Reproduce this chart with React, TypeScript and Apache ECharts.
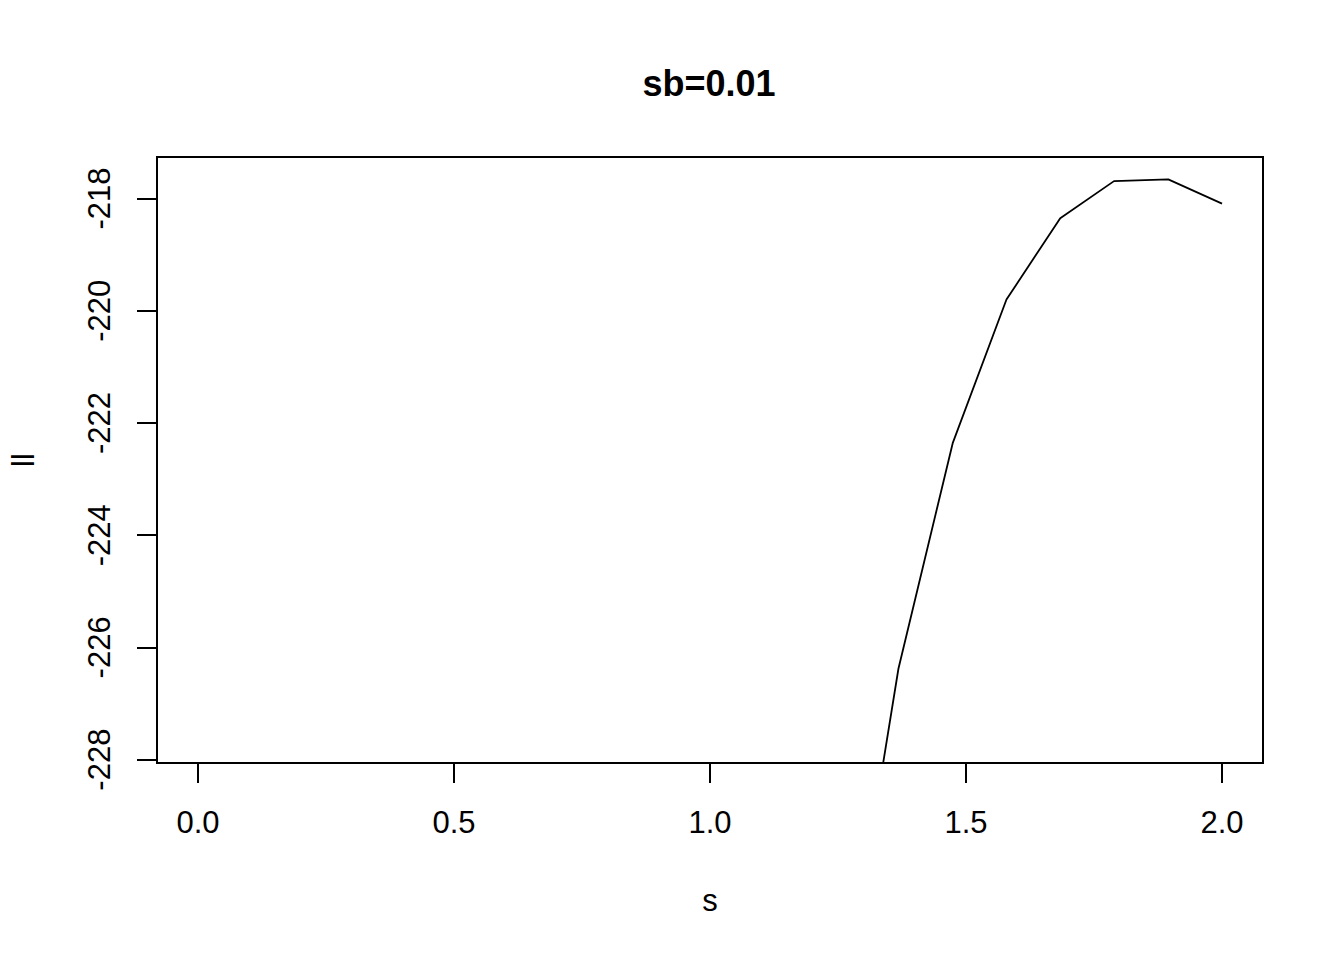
import { useEffect, useRef } from "react";
import * as echarts from "echarts";

// s grid (seq(0, 2, length = 20)); the earlier points lie far below the plotted range
const sValues = [1.263, 1.368, 1.474, 1.579, 1.684, 1.789, 1.895, 2.0];
const llValues = [-232.3, -226.38, -222.36, -219.8, -218.35, -217.69, -217.66, -218.09];

const xTicks = [0, 0.5, 1, 1.5, 2];
const yTicks = [-228, -226, -224, -222, -220, -218];

const FONT = "'Liberation Sans', Arial, Helvetica, sans-serif";

export default function App() {
  const ref = useRef<HTMLDivElement | null>(null);

  useEffect(() => {
    if (!ref.current) return;
    const chart = echarts.init(ref.current, null, { renderer: "svg" });
    chart.setOption({
      animation: false,
      backgroundColor: "#fff",
      title: {
        text: "sb=0.01",
        left: 704,
        top: 60,
        textAlign: "center",
        textStyle: { fontFamily: FONT, fontSize: 36, fontWeight: "bold", color: "#000" },
      },
      grid: {
        left: 157,
        right: 81,
        top: 157,
        bottom: 197,
        show: true,
        borderColor: "#000",
        borderWidth: 2,
        outerBoundsMode: "none",
      },
      xAxis: {
        type: "value",
        min: -0.08,
        max: 2.08,
        name: "s",
        nameLocation: "middle",
        nameGap: 122,
        nameTextStyle: { fontFamily: FONT, fontSize: 31, color: "#000" },
        axisLine: { show: false, onZero: false },
        splitLine: { show: false },
        axisTick: { show: true, length: 20, lineStyle: { color: "#000", width: 2 }, customValues: xTicks },
        axisLabel: {
          fontFamily: FONT,
          fontSize: 31,
          color: "#000",
          margin: 44,
          customValues: xTicks,
          formatter: (v: number) => v.toFixed(1),
        },
      },
      yAxis: {
        type: "value",
        min: -228.06,
        max: -217.26,
        name: "ll",
        nameLocation: "middle",
        nameGap: 118,
        nameTextStyle: { fontFamily: FONT, fontSize: 31, color: "#000" },
        axisLine: { show: false, onZero: false },
        splitLine: { show: false },
        axisTick: { show: true, length: 20, lineStyle: { color: "#000", width: 2 }, customValues: yTicks },
        axisLabel: {
          fontFamily: FONT,
          fontSize: 31,
          color: "#000",
          margin: 42,
          rotate: 90,
          customValues: yTicks,
          formatter: (v: number) => String(v),
        },
      },
      series: [
        {
          type: "line",
          data: sValues.map((s, i) => [s, llValues[i]]),
          showSymbol: false,
          clip: true,
          lineStyle: { color: "#000", width: 1.8 },
        },
      ],
    });
    return () => chart.dispose();
  }, []);

  return (
    <div
      ref={ref}
      style={{ position: "fixed", left: 0, top: 0, width: 1344, height: 960, background: "#fff" }}
    />
  );
}
